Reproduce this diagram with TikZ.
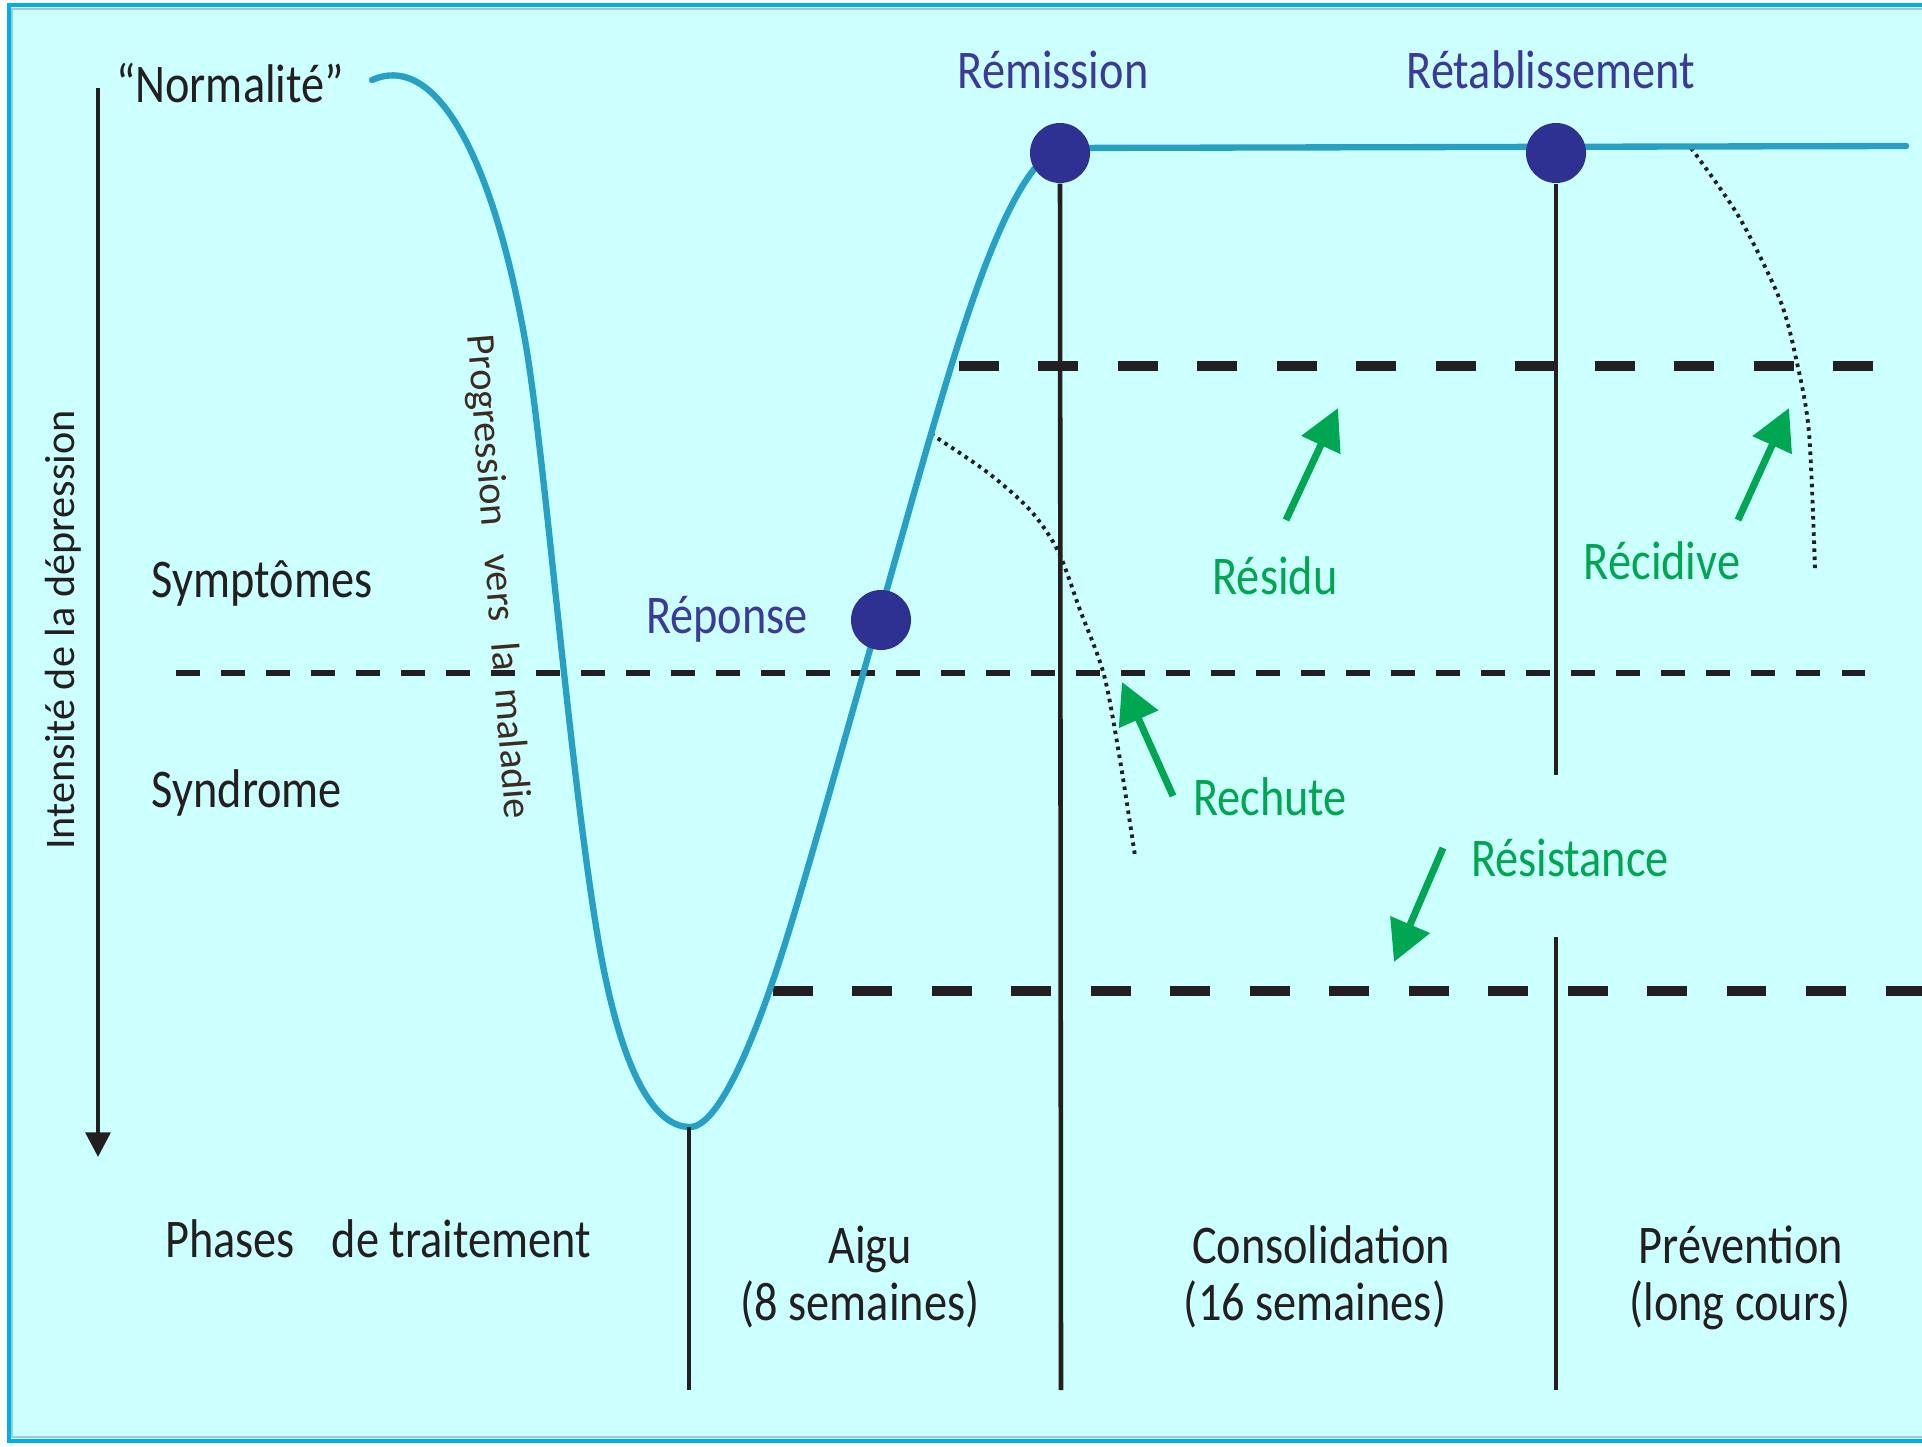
\documentclass[tikz,border=0pt]{standalone}
\usepackage{fontspec}
\setmainfont{Carlito}
\newfontfamily\slimfont[FakeStretch=0.85]{Carlito}
\usetikzlibrary{arrows.meta}
\definecolor{depCyan}{RGB}{204,255,255}
\definecolor{depFrame}{RGB}{0,174,239}
\definecolor{depRim}{RGB}{156,204,204}
\definecolor{depCurve}{RGB}{40,160,195}
\definecolor{depNavy}{RGB}{46,49,146}
\definecolor{depViolet}{RGB}{60,58,152}
\definecolor{depGreen}{RGB}{0,166,81}
\definecolor{depInk}{RGB}{35,31,32}
\definecolor{depBrown}{RGB}{62,42,30}

\begin{document}
\begin{tikzpicture}[x=0.01cm,y=-0.01cm,
  lbl/.style={inner sep=0pt,anchor=base,text=#1,
              font=\slimfont\fontsize{15.5}{18}\selectfont},
  lbl/.default=depInk,
  milestone/.style={circle,fill=depNavy,minimum size=0.6cm,inner sep=0pt},
  phaseline/.style={line width=1.3pt,draw=depInk},
  thindash/.style={line width=1.5pt,draw=depInk,dash pattern=on 6.8pt off 6pt},
  thickdash/.style={line width=2.6pt,draw=depInk,dash pattern=on 11.3pt off 11.3pt},
  relapse/.style={draw=depInk,line width=1.1pt,dash pattern=on 1pt off 1.3pt},
  trend/.style={-{Triangle[length=11.6pt,width=11.8pt]},line width=2pt,draw=depGreen}
]
\useasboundingbox (0,0) rectangle (1922,1446);

% Frame
\fill[depCyan] (12,9) rectangle (1922,1439);
\draw[depRim,line width=0.8pt] (1922,9) -- (12,9) -- (12,1437) -- (1922,1437);
\draw[depFrame,line width=1.1pt] (1922,5) -- (9,5) -- (9,1441) -- (1922,1441);

% Thresholds
\draw[thindash] (176,673) -- (1869,673);
\draw[thickdash] (959,366) -- (1877,366);
\draw[thickdash] (773,991) -- (1922,991);

% Relapse paths
\draw[relapse] plot[smooth] coordinates {(931,434) (987,472) (1030,510)
  (1058,551) (1080,610) (1104,675) (1120,760) (1135,856)};
\draw[relapse] plot[smooth] coordinates {(1691,148) (1739,217) (1780,300)
  (1797,363) (1809,433) (1815,570)};

% Course of the illness
\draw[depCurve,line width=1.8pt,line cap=round]
  (372,80) .. controls (440,50) and (495,170) .. (525,340)
  .. controls (545,453) and (570,780) .. (600,950)
  .. controls (620,1060) and (650,1127) .. (690,1127)
  .. controls (725,1127) and (768,997) .. (783,950)
  .. controls (815,850) and (900,540) .. (931,434)
  .. controls (962,328) and (1010,165) .. (1060,148) -- (1906,146);
\coordinate (trough) at (689,1127);

% Milestones
\node[milestone] (rem) at (1060,153) {};
\node[milestone] (ret) at (1556,153) {};
\node[milestone] (rep) at (881,620) {};
\node[lbl=depViolet] (remLbl) at (1053,89) {Rémission};
\node[lbl=depViolet] (retLbl) at (1551,89) {Rétablissement};
\node[lbl=depViolet] (repLbl) at (727,633) {Réponse};

% Phase borders
\coordinate (acuteEnd) at (689,1390);
\coordinate (consEnd) at (1061,1390);
\coordinate (gapTop) at (1556,775);
\coordinate (gapBot) at (1556,937);
\coordinate (prevEnd) at (1556,1390);
\draw[phaseline] (trough) -- (acuteEnd);
\draw[phaseline] (rem.south) -- (consEnd);
\draw[phaseline] (ret.south) -- (gapTop);
\draw[phaseline] (gapBot) -- (prevEnd);

% Axis
\coordinate (axisTop) at (98,88);
\coordinate (axisEnd) at (98,1157);
\draw[depInk,line width=1.2pt,-{Triangle[length=7pt,width=7pt]}] (axisTop) -- (axisEnd);
\node[inner sep=0pt,rotate=90,text=depInk,font=\fontsize{12}{14}\selectfont]
  (axisLbl) at (63,630) {Intensité de la dépression};
\node[inner sep=0pt,rotate=-85.5,text=depBrown,font=\fontsize{11.5}{14}\selectfont]
  (progLbl) at (497,577) {Progression\hspace{8pt}vers\hspace{6pt}la\hspace{5pt}maladie};

% Levels
\node[lbl] (normLbl) at (230,103) {“Normalité”};
\node[lbl,anchor=base west] (sympLbl) at (151,597) {Symptômes};
\node[lbl,anchor=base west] (syndLbl) at (151,807) {Syndrome};

% Green arrows
\foreach \nm/\tx/\ty/\hx/\hy in {residu/1286/520/1338/408,
  recidive/1738/520/1789/408, rechute/1173/796/1122/682,
  resist/1443/848/1394/962}
{
  \coordinate (\nm-tail) at (\tx,\ty);
  \coordinate (\nm-tip) at (\hx,\hy);
  \draw[trend] (\nm-tail) -- (\nm-tip);
}
\foreach \nm/\x/\y/\txt in {residu/1275/594/Résidu, recidive/1662/579/Récidive,
  rechute/1270/815/Rechute, resist/1570/876/Résistance}
  \node[lbl=depGreen] (\nm-lbl) at (\x,\y) {\txt};

% Treatment phases
\node[lbl] (phasesLbl) at (378,1257) {Phases\hspace{10.5pt}de traitement};
\foreach \nm/\xa/\xb/\top/\bot in {aigu/870/860/Aigu/{(8 semaines)},
  cons/1321/1315/Consolidation/{(16 semaines)},
  prev/1741/1740/Prévention/{(long cours)}}
{
  \node[lbl] (\nm-a) at (\xa,1263) {\top};
  \node[lbl] (\nm-b) at (\xb,1320) {\bot};
}
\end{tikzpicture}
\end{document}
